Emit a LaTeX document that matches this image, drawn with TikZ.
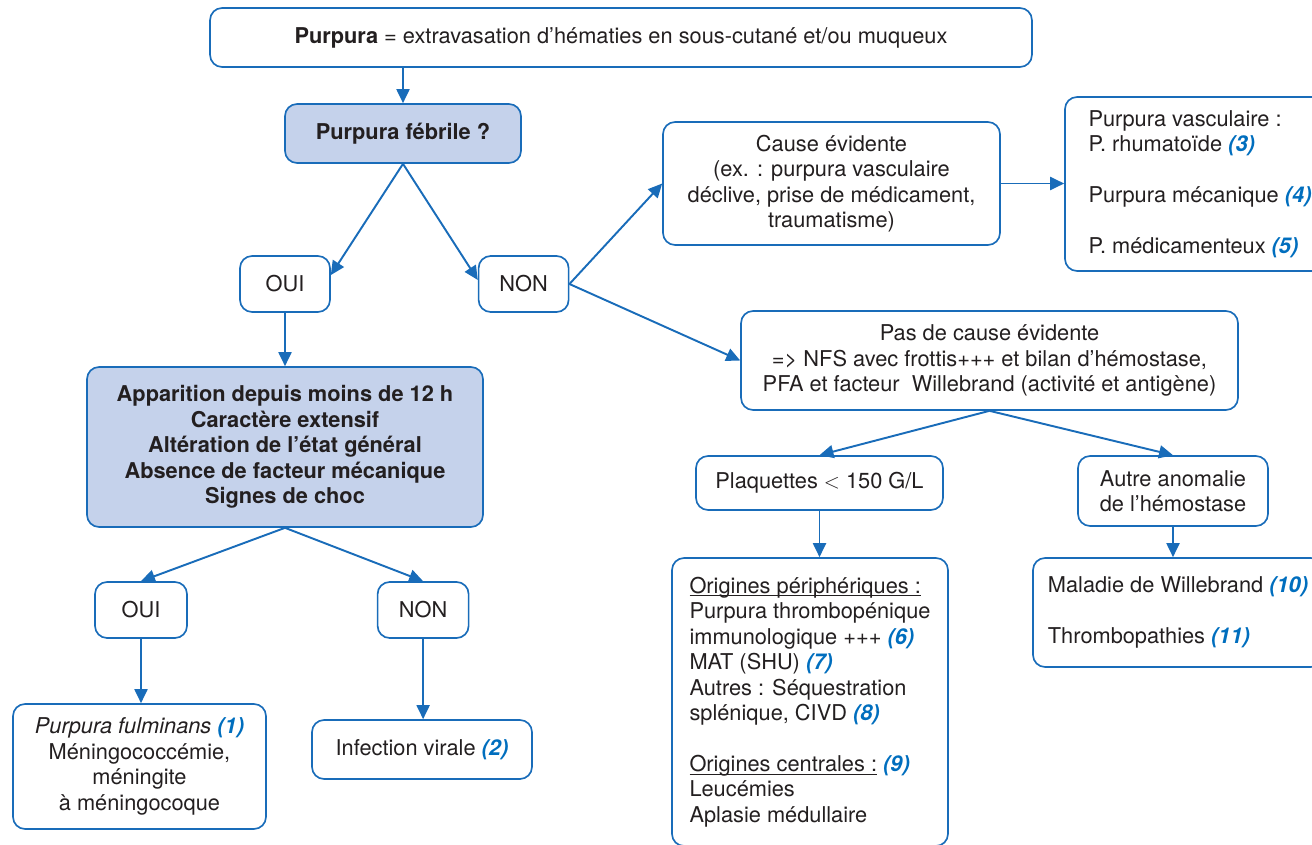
\documentclass[tikz,border=0pt]{standalone}
\usepackage{fontspec}
\setmainfont{TeX Gyre Heros}
\usetikzlibrary{positioning,arrows.meta}
\definecolor{trait}{RGB}{25,108,185}
\definecolor{fond}{RGB}{197,210,235}
\definecolor{texte}{RGB}{35,31,32}
\definecolor{renvoi}{RGB}{0,110,190}
\newcommand{\renv}[1]{\textcolor{renvoi}{\textbf{\textit{(#1)}}}}
\newsavebox{\soulbox}
\newcommand{\souligne}[1]{\sbox{\soulbox}{#1}\rlap{\rule[-1.8pt]{\wd\soulbox}{0.5pt}}\usebox{\soulbox}}
\tikzset{ %inner sep = 0pt,
  >={Triangle[length=2.8mm,width=2.6mm]},
  box/.style ={draw=trait,line width=0.95pt,rounded corners=2.4mm,
  align=center,text=texte,inner sep=0pt,font=\fontsize{12.4}{14.5}\selectfont},
  {question/.style} ={box,fill=fond,font=\fontsize{12.4}{14.5}\selectfont\bfseries},
  {dedge/.style} ={draw=trait,line width=1.1pt,->},
 }

\begin{document}
\begin{tikzpicture}[x=0.02cm,y=-0.02cm]
        \clip (0,0) rectangle (1312,845);
        \node[box,minimum width=16.44cm,minimum height=1.18cm] (def) at (621,37.5)
                {\textbf{Purpura} = extravasation d’hématies en sous-cutané et/ou muqueux};
        \node[question,minimum width=4.72cm,minimum height=1.18cm] (feb) at (403,133.5)
                {Purpura fébrile ?};
        \node[box,minimum width=1.8cm,minimum height=1.12cm] (oui1) at (285,284) {OUI};
        \node[box,minimum width=1.8cm,minimum height=1.12cm] (non1) [right=2.94cm of oui1] {NON};
        \node[question,minimum width=7.92cm,minimum height=3.2cm] (app) at (285,447)
                {Apparition depuis moins de 12 h\\ Caractère extensif\\
                Altération de l’état général\\ Absence de facteur mécanique\\ Signes de choc};
        \node[box,minimum width=1.84cm,minimum height=1.12cm] (oui2) at (141,610) {OUI};
        \node[box,minimum width=1.82cm,minimum height=1.12cm] (non2) [right=3.78cm of oui2] {NON};
        \node[box,minimum width=5.06cm,minimum height=2.5cm] (ful) at (139.5,766.5)
                {\textit{Purpura fulminans} \renv{1}\\ Méningococcémie,\\ méningite\\ à méningocoque};
        \node[box,minimum width=4.4cm,minimum height=1.18cm] (vir) at (422,749.5)
                {Infection virale \renv{2}};
        \node[box,minimum width=6.74cm,minimum height=2.46cm] (cause) at (831.5,183.5)
                {Cause évidente\\ (ex. : purpura vasculaire\\ déclive, prise de médicament,\\ traumatisme)};
        \node[box,align=left,minimum width=5.4cm,minimum height=3.48cm] (vasc) at (1200,184)
                {Purpura vasculaire :\\ P. rhumatoïde \renv{3}\\[14.5pt]
                Purpura mécanique \renv{4}\\[14.5pt] P. médicamenteux \renv{5}};
        \node[box,minimum width=9.94cm,minimum height=1.98cm] (pas) at (989.5,360.5)
                {Pas de cause évidente\\ => NFS avec frottis+++ et bilan d’hémostase,\\
                PFA et facteur\ \ Willebrand (activité et antigène)};
        \node[box,minimum width=4.94cm,minimum height=1.08cm] (plq) at (819.5,483)
                {Plaquettes $<$ 150 G/L};
        \node[box,minimum width=3.8cm,minimum height=1.4cm] (autre) at (1173,491)
                {Autre anomalie\\ de l’hémostase};
        \node[box,align=left,minimum width=5.52cm,minimum height=5.76cm] (orig) at (810,702)
                {\souligne{Origines périphériques :}\\ Purpura thrombopénique\\
                immunologique +++ \renv{6}\\ MAT (SHU) \renv{7}\\ Autres : Séquestration\\
                splénique, CIVD \renv{8}\\[14.5pt]
                \souligne{Origines centrales :} \renv{9}\\ Leucémies\\ Aplasie médullaire};
        \node[box,align=left,minimum width=5.8cm,minimum height=2.18cm] (mal) at (1178,612.5)
                {Maladie de Willebrand \renv{10}\\[14.5pt] Thrombopathies \renv{11}};
        % left branch
        \draw[dedge] (feb.north |- def.south) -- (feb.north);
        \draw[dedge] (feb.south) -- (oui1.11);
        \draw[dedge] (feb.south) -- (non1.175);
        \draw[dedge] (oui1.south) -- (app.north);
        \draw[dedge] (app.south) -- (oui2.north);
        \draw[dedge] (app.south) -- (non2.north);
        \draw[dedge] (oui2.south) -- (oui2.south |- ful.north);
        \draw[dedge] (non2.south) -- (non2.south |- vir.north);
        % right branch
        \draw[dedge] (non1.east) -- (cause.west);
        \draw[dedge] (non1.east) -- (pas.west);
        \draw[dedge] (cause.east) -- (cause.east -| vasc.west);
        \draw[dedge] (pas.south) -- (plq.north);
        \draw[dedge] (pas.south) -- (autre.north);
        \draw[dedge] (plq.south) -- (plq.south |- orig.north);
        \draw[dedge] (autre.south) -- (autre.south |- mal.north);
\end{tikzpicture}
\end{document}
